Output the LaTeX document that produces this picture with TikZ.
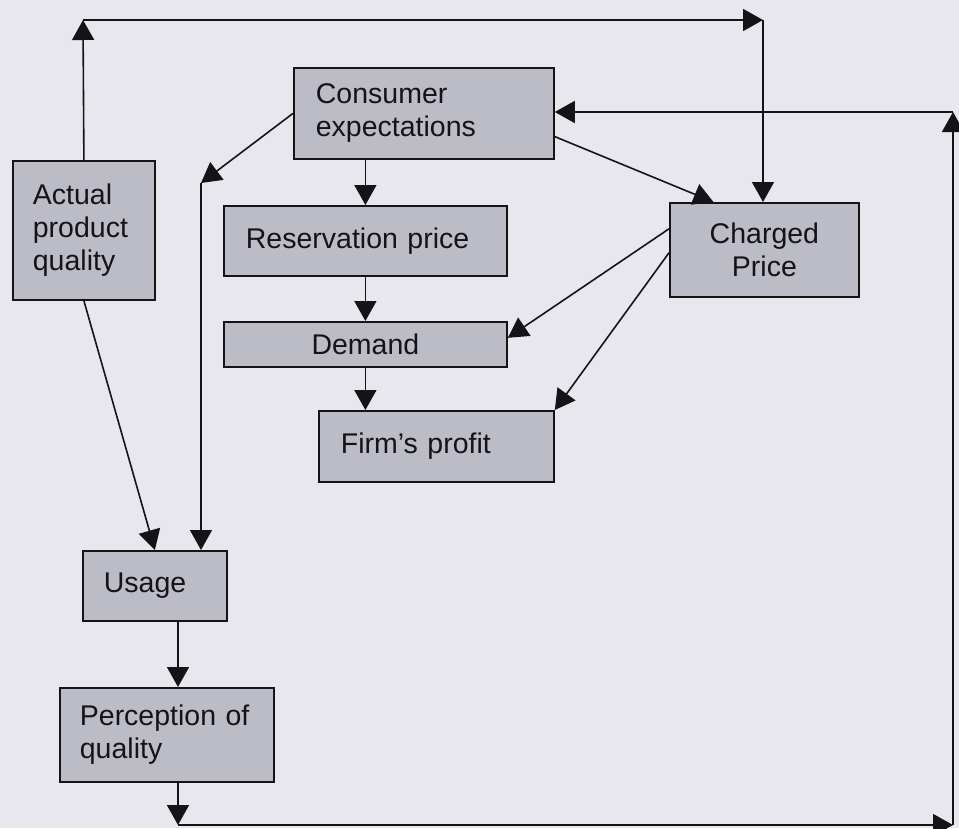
\documentclass[tikz,border=0pt]{standalone}
\usepackage{fontspec}
\setmainfont{Liberation Sans}
\usetikzlibrary{arrows.meta,calc}
\definecolor{bgc}{RGB}{231,231,237}
\definecolor{boxc}{RGB}{188,188,199}
\definecolor{linec}{RGB}{20,20,24}
\newcommand{\boxfont}{\fontsize{28.5}{33}\selectfont}
\tikzset{
  box/.style={draw=linec, line width=1.8pt, fill=boxc, inner ysep=0pt, font=\boxfont, text=linec, anchor=north west},
  arr/.style={-{Triangle[width=22pt,length=20pt]}, line width=1.6pt, draw=linec}
}
\begin{document}
\begin{tikzpicture}[x=1pt,y=-1pt]
\fill[bgc] (0,0) rectangle (959,828);
\useasboundingbox (0,0) rectangle (959,828);
% boxes
\node[box, minimum width=260, minimum height=91, text width=216, inner xsep=22, align=left] (ce) at (293,67) {Consumer\\expectations};
\node[box, minimum width=142, minimum height=139, text width=102, inner xsep=20, align=left] (apq) at (12,160) {Actual\\product\\quality};
\node[box, minimum width=283, minimum height=70, text width=239, inner xsep=22, align=left] (rp) at (223,205) {Reservation price};
\node[box, minimum width=283, minimum height=45, align=center] (dm) at (223,321) {Demand};
\node[box, minimum width=235, minimum height=71, text width=191, inner xsep=22, align=left] (fp) at (318,410) {Firm’s profit};
\node[box, minimum width=189, minimum height=94, align=center] (cp) at (669,202) {Charged\\Price};
\node[box, minimum width=144, minimum height=70, text width=102, inner xsep=21, align=left] (us) at (82,550) {Usage};
\node[box, minimum width=214, minimum height=94, text width=174, inner xsep=20, align=left] (pq) at (59,687) {Perception of\\quality};
% corner coordinates
\coordinate (tl) at (83,20);
\coordinate (tr) at (763,20);
\coordinate (bl) at (178,825);
\coordinate (br) at (953,825);
\coordinate (rt) at (953,112);
\coordinate (ul) at (201,183);
% top loop
\draw[arr] (apq.north) -- (tl);
\draw[arr] (tl) -- (tr);
\draw[arr] (tr) -- (cp.north -| tr);
% bottom / right loop
\draw[arr] (pq.south -| bl) -- (bl);
\draw[arr] (bl) -- (br);
\draw[arr] (br) -- (rt);
\draw[arr] (rt) -- (ce.east |- rt);
% consumer expectations to usage
\draw[arr] (ce.west) -- (ul);
\draw[arr] (ul) -- (us.north -| ul);
% central chain
\draw[arr] (ce.south -| rp.north) -- (rp.north);
\draw[arr] (rp.south) -- (dm.north);
\draw[arr] (dm.south) -- (fp.north -| dm.south);
% charged price links
\draw[arr] ($(ce.north east)!0.75!(ce.south east)$) -- ($(cp.north west)!0.233!(cp.north east)$);
\draw[arr] ($(cp.north west)!0.28!(cp.south west)$) -- ($(dm.north east)!0.36!(dm.south east)$);
\draw[arr] ($(cp.north west)!0.53!(cp.south west)$) -- (fp.north east);
% left column
\draw[arr] (apq.south) -- (us.north);
\draw[arr] (us.south -| bl) -- (pq.north -| bl);
\end{tikzpicture}
\end{document}
